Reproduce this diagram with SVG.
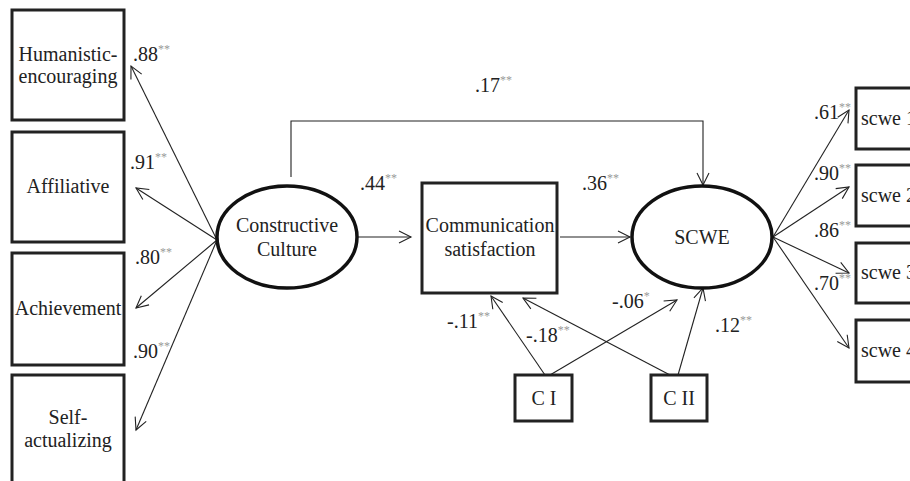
<svg xmlns="http://www.w3.org/2000/svg" width="910" height="481" viewBox="0 0 910 481">
<style>
text{font-family:'Liberation Serif','Times New Roman','DejaVu Serif',serif;font-size:20px;fill:#222}
.m{text-anchor:middle}
.s{font-size:12px;fill:#999}
.box{fill:#fff;stroke:#222;stroke-width:3}
.ell{fill:#fff;stroke:#111;stroke-width:3.5}
.c{fill:none;stroke:#222;stroke-width:1.1}
</style>
<defs>
<marker id="a" markerUnits="userSpaceOnUse" markerWidth="16" markerHeight="16" refX="13" refY="7" orient="auto">
<path d="M1,1 L13,7 L1,13" fill="none" stroke="#222" stroke-width="1.1"/>
</marker>
</defs>
<rect width="910" height="481" fill="#fff"/>
<g id="connectors">
<path class="c" d="M217,240 L131,66" marker-end="url(#a)"/>
<path class="c" d="M217,240 L136,188" marker-end="url(#a)"/>
<path class="c" d="M217,240 L136,308" marker-end="url(#a)"/>
<path class="c" d="M217,240 L136,430" marker-end="url(#a)"/>
<path class="c" d="M291,177 L291,121 L703,121 L703,185" marker-end="url(#a)"/>
<path class="c" d="M358,237 L411,237" marker-end="url(#a)"/>
<path class="c" d="M560,237 L630,237" marker-end="url(#a)"/>
<path class="c" d="M545,375 L491,296" marker-end="url(#a)"/>
<path class="c" d="M550,375 L677,300" marker-end="url(#a)"/>
<path class="c" d="M670,375 L523,298" marker-end="url(#a)"/>
<path class="c" d="M678,375 L703,288" marker-end="url(#a)"/>
<path class="c" d="M773,237 L849,110" marker-end="url(#a)"/>
<path class="c" d="M773,237 L849,187" marker-end="url(#a)"/>
<path class="c" d="M773,237 L849,273" marker-end="url(#a)"/>
<path class="c" d="M773,237 L849,348" marker-end="url(#a)"/>
</g>
<g id="humanistic"><rect class="box" x="12" y="10" width="112" height="110"/><text class="m" x="68" y="61">Humanistic-</text><text class="m" x="68" y="83">encouraging</text></g>
<g id="affiliative"><rect class="box" x="12" y="132" width="112" height="110"/><text class="m" x="68" y="193">Affiliative</text></g>
<g id="achievement"><rect class="box" x="12" y="253" width="112" height="112"/><text class="m" x="68" y="315">Achievement</text></g>
<g id="self"><rect class="box" x="12" y="375" width="112" height="120"/><text class="m" x="68" y="424">Self-</text><text class="m" x="68" y="447">actualizing</text></g>
<g id="constructive"><ellipse class="ell" cx="287" cy="237" rx="70" ry="51"/><text class="m" x="287" y="232">Constructive</text><text class="m" x="287" y="256">Culture</text></g>
<g id="communication"><rect class="box" x="422" y="183" width="135" height="110"/><text class="m" x="490" y="232">Communication</text><text class="m" x="490" y="256">satisfaction</text></g>
<g id="scwe"><ellipse class="ell" cx="702" cy="237" rx="70" ry="51"/><text class="m" x="702" y="244">SCWE</text></g>
<g id="ci"><rect class="box" x="515" y="375" width="57" height="46"/><text class="m" x="544" y="405">C I</text></g>
<g id="cii"><rect class="box" x="651" y="375" width="56" height="46"/><text class="m" x="679" y="405">C II</text></g>
<g id="scwe1"><rect class="box" x="856" y="88" width="70" height="61"/><text x="861" y="125">scwe 1</text></g>
<g id="scwe2"><rect class="box" x="856" y="165" width="70" height="61"/><text x="861" y="202">scwe 2</text></g>
<g id="scwe3"><rect class="box" x="856" y="243" width="70" height="60"/><text x="861" y="279">scwe 3</text></g>
<g id="scwe4"><rect class="box" x="856" y="320" width="70" height="62"/><text x="861" y="357">scwe 4</text></g>
<g id="labels">
<text x="133" y="61">.88<tspan class="s" dy="-8">**</tspan></text>
<text x="130" y="169">.91<tspan class="s" dy="-8">**</tspan></text>
<text x="135" y="264">.80<tspan class="s" dy="-8">**</tspan></text>
<text x="133" y="358">.90<tspan class="s" dy="-8">**</tspan></text>
<text x="475" y="92">.17<tspan class="s" dy="-8">**</tspan></text>
<text x="360" y="190">.44<tspan class="s" dy="-8">**</tspan></text>
<text x="582" y="190">.36<tspan class="s" dy="-8">**</tspan></text>
<text x="447" y="328">-.11<tspan class="s" dy="-8">**</tspan></text>
<text x="526" y="342">-.18<tspan class="s" dy="-8">**</tspan></text>
<text x="612" y="308">-.06<tspan class="s" dy="-8">*</tspan></text>
<text x="715" y="332">.12<tspan class="s" dy="-8">**</tspan></text>
<text x="814" y="119">.61<tspan class="s" dy="-8">**</tspan></text>
<text x="814" y="180">.90<tspan class="s" dy="-8">**</tspan></text>
<text x="814" y="237">.86<tspan class="s" dy="-8">**</tspan></text>
<text x="814" y="290">.70<tspan class="s" dy="-8">**</tspan></text>
</g>
</svg>
